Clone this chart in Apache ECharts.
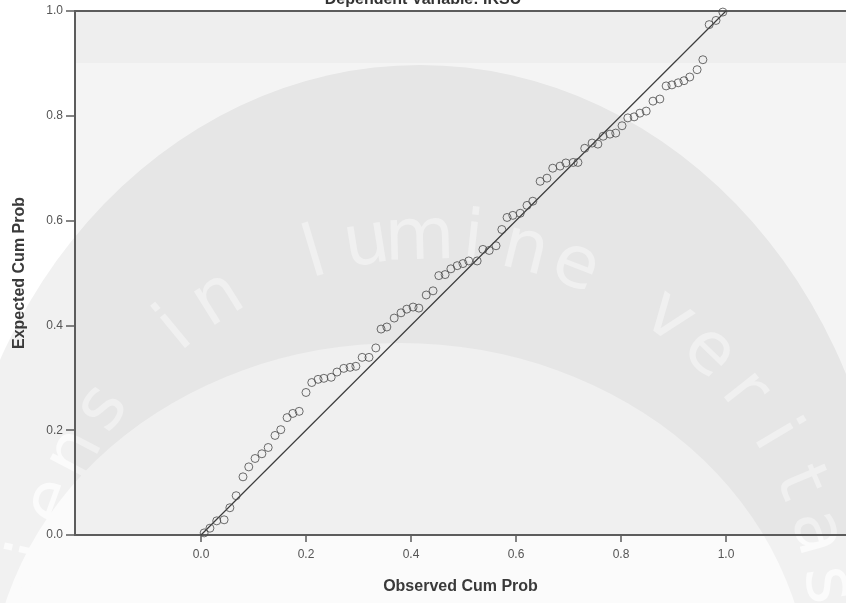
<!DOCTYPE html>
<html><head><meta charset="utf-8">
<script src="https://cdn.jsdelivr.net/npm/echarts@6/dist/echarts.min.js"></script>
<style>html,body{margin:0;padding:0;background:#fff}#c{width:846px;height:603px}</style>
</head><body><div id="c"></div>
<script>
const titleText = 'Dependent Variable: IKSU';
const xAxisName = 'Observed Cum Prob';
const yAxisName = 'Expected Cum Prob';
const xTicks = [0, 0.2, 0.4, 0.6, 0.8, 1.0];
const yTicks = [0, 0.2, 0.4, 0.6, 0.8, 1.0];
const obsCumProb = [0.006,0.017,0.030,0.044,0.055,0.067,0.080,0.091,0.103,0.116,
  0.128,0.141,0.152,0.164,0.175,0.187,0.200,0.211,0.223,0.234,
  0.248,0.259,0.272,0.284,0.295,0.307,0.320,0.333,0.343,0.354,
  0.368,0.381,0.392,0.404,0.415,0.429,0.442,0.453,0.465,0.476,
  0.488,0.499,0.510,0.526,0.537,0.549,0.562,0.573,0.583,0.594,
  0.608,0.621,0.632,0.646,0.659,0.670,0.684,0.695,0.709,0.718,
  0.731,0.745,0.756,0.766,0.779,0.790,0.802,0.813,0.825,0.836,
  0.848,0.861,0.874,0.886,0.897,0.909,0.920,0.931,0.945,0.956,
  0.968,0.981,0.994];
const expCumProb = [0.004,0.013,0.027,0.029,0.052,0.075,0.111,0.130,0.146,0.155,
  0.167,0.190,0.201,0.224,0.232,0.236,0.272,0.291,0.297,0.299,
  0.301,0.311,0.318,0.320,0.322,0.339,0.339,0.357,0.393,0.397,
  0.414,0.424,0.431,0.435,0.433,0.458,0.466,0.495,0.497,0.508,
  0.514,0.518,0.523,0.523,0.545,0.543,0.552,0.583,0.606,0.610,
  0.614,0.629,0.637,0.675,0.681,0.700,0.704,0.710,0.711,0.711,
  0.738,0.748,0.746,0.761,0.765,0.767,0.781,0.796,0.798,0.805,
  0.809,0.828,0.832,0.857,0.859,0.863,0.867,0.874,0.888,0.907,
  0.974,0.982,0.998];
const refLineX = [0, 1];
const refLineY = [0, 1];
const watermarkText = 'Sapiens in lumine veritas';

const FONT = '"Liberation Sans", Arial, sans-serif';
const chart = echarts.init(document.getElementById('c'), null, {renderer: 'canvas'});

// decorative background watermark
const bg = [];
bg.push({type: 'circle', x: 420, y: 600, scaleX: 470 / 535, shape: {cx: 0, cy: 0, r: 535},
  style: {fill: '#f1f1f1'}, z: -30, silent: true});
bg.push({type: 'circle', x: 400, y: 700, scaleX: 410 / 357, shape: {cx: 0, cy: 0, r: 357},
  style: {fill: '#fbfbfb'}, z: -29, silent: true});
for (let i = 0; i < watermarkText.length; i++) {
  const ch = watermarkText[i];
  if (ch === ' ') continue;
  const th = (-16.7 + (i - 11) * 7.6) * Math.PI / 180;
  bg.push({type: 'text', x: 430 + 400 * Math.sin(th), y: 640 - 400 * Math.cos(th), rotation: -th,
    style: {text: ch, fill: '#fbfbfb', font: '72px "DejaVu Sans", sans-serif', align: 'center', verticalAlign: 'middle'},
    z: -28, silent: true});
}
bg.push({type: 'rect', shape: {x: 75, y: 11, width: 771, height: 524}, style: {fill: 'rgba(0,0,0,0.045)'}, z: -27, silent: true});
bg.push({type: 'rect', shape: {x: 75, y: 11, width: 771, height: 52}, style: {fill: 'rgba(0,0,0,0.023)'}, z: -26, silent: true});

const axisCol = '#5c5c5c';
const labelCol = '#555555';

chart.setOption({
  animation: false,
  backgroundColor: '#ffffff',
  title: {text: titleText, left: 'center', top: -13,
    textStyle: {fontFamily: FONT, fontSize: 16, fontWeight: 'bold', color: '#333'}},
  graphic: {elements: bg},
  grid: {left: 75, top: 11, right: 0, bottom: 68},
  xAxis: [{
    type: 'value', min: -0.24, max: 1.2286, position: 'bottom',
    name: xAxisName, nameLocation: 'middle', nameGap: 44,
    nameTextStyle: {fontFamily: FONT, fontSize: 16, fontWeight: 'bold', color: '#3a3a3a'},
    axisLine: {show: true, onZero: false, lineStyle: {color: axisCol, width: 2}},
    axisTick: {show: true, customValues: xTicks, length: 7, lineStyle: {color: axisCol, width: 1.5}},
    axisLabel: {customValues: xTicks, margin: 14, color: labelCol, fontFamily: FONT, fontSize: 12,
      formatter: v => v.toFixed(1)},
    splitLine: {show: false}
  }, {
    type: 'value', min: -0.24, max: 1.2286, position: 'top',
    axisLine: {show: true, onZero: false, lineStyle: {color: axisCol, width: 2}},
    axisTick: {show: false}, axisLabel: {show: false}, splitLine: {show: false}
  }],
  yAxis: {
    type: 'value', min: 0, max: 1, interval: 0.2,
    name: yAxisName, nameLocation: 'middle', nameGap: 47,
    nameTextStyle: {fontFamily: FONT, fontSize: 16, fontWeight: 'bold', color: '#3a3a3a'},
    axisLine: {show: true, onZero: false, lineStyle: {color: axisCol, width: 2}},
    axisTick: {show: true, length: 9, lineStyle: {color: axisCol, width: 1.5}},
    axisLabel: {margin: 12, color: labelCol, fontFamily: FONT, fontSize: 12,
      formatter: v => v.toFixed(1)},
    splitLine: {show: false}
  },
  series: [{
    type: 'line', data: refLineX.map((x, i) => [x, refLineY[i]]),
    showSymbol: false, symbol: 'none', lineStyle: {color: '#3c3c3c', width: 1.2}, z: 2
  }, {
    type: 'scatter', data: obsCumProb.map((x, i) => [x, expCumProb[i]]),
    symbol: 'circle', symbolSize: 8,
    itemStyle: {color: 'rgba(0,0,0,0)', borderColor: '#4a4a4a', borderWidth: 1}, z: 3
  }]
});
</script>
</body></html>
